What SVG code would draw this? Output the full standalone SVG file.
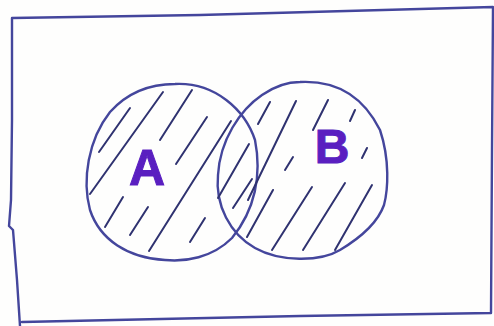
<svg xmlns="http://www.w3.org/2000/svg" width="494" height="326" viewBox="0 0 494 326">
<style>
.ink{fill:none;stroke:#44469c;stroke-width:2.4;stroke-linecap:round;stroke-linejoin:round}
.hatch{fill:none;stroke:#2f3270;stroke-width:2;stroke-linecap:round}
.lbl{font-family:"Liberation Sans",Arial,sans-serif;font-weight:bold;fill:#5a1fc0;stroke:#5a1fc0;stroke-width:1}
</style>
<rect width="494" height="326" fill="#fefefd"/>
<g id="frame">
<path class="ink" d="M12,18 L200,15 L493,7 L492,150 L491,313 L300,316 L22,322 M12,18 L12,120 L11,200 L9,226 L13,230 L17,280 L20,326"/>
</g>
<g id="setA">
<path class="ink" d="M175,84 C215,82 245,110 255,140 C262,175 255,210 232,238 C212,258 185,262 165,260 C128,258 100,240 90,210 C82,180 88,140 110,112 C128,92 150,84 175,84 Z"/>
<text class="lbl" x="147" y="185" font-size="50" text-anchor="middle">A</text>
</g>
<g id="setB">
<path class="ink" d="M300,82 C340,80 365,100 380,130 C390,160 388,190 384,205 C378,222 360,238 340,250 C320,262 280,262 255,248 C230,234 215,205 218,175 C220,140 240,110 262,95 C275,86 288,82 300,82 Z"/>
<text class="lbl" x="332" y="163" font-size="48" text-anchor="middle">B</text>
</g>
<g id="hatching">
<path class="hatch" d="M99,152 L130,108 M90,194 L163,92 M160,140 L192,90 M176,164 L207,117 M105,227 L123,197 M130,235 L148,207 M149,251 L231,121 M190,242 L205,218 M218,198 L249,144 M233,208 L252,179 M258,124 L270,102 M248,200 L296,101 M313,130 L328,100 M350,121 L355,110 M362,158 L367,148 M285,170 L293,157 M247,237 L273,190 M272,250 L312,187 M303,250 L345,183 M335,250 L372,185"/>
</g>
</svg>
